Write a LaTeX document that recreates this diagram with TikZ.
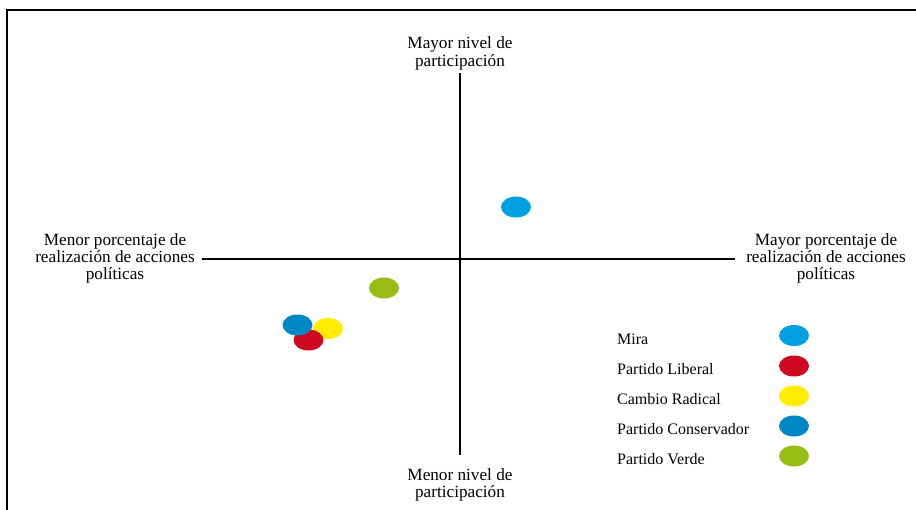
\documentclass[tikz,border=0pt]{standalone}
\usepackage{fontspec}
\setmainfont{Liberation Serif}
\definecolor{cmira}{RGB}{0,160,227}
\definecolor{clib}{RGB}{205,10,32}
\definecolor{ccam}{RGB}{255,236,0}
\definecolor{ccon}{RGB}{0,136,198}
\definecolor{cver}{RGB}{152,188,20}
\tikzset{
  lbl/.style={inner sep=0pt, align=center, font=\fontsize{17.2}{17.3}\selectfont},
  leg/.style={inner sep=0pt, anchor=west, font=\fontsize{16}{16}\selectfont},
  dot/.style={ellipse, minimum width=30pt, minimum height=21pt, inner sep=0pt, draw=none},
  axis/.style={line width=2pt},
  frame/.style={line width=2pt, line cap=rect}
}
\usetikzlibrary{shapes.geometric}
\begin{document}
\begin{tikzpicture}[x=1pt,y=-1pt]
\useasboundingbox (0,0) rectangle (916,509);
% frame
\coordinate (fb) at (7,512);
\coordinate (fc) at (7,10);
\coordinate (fr) at (919,10);
\draw[frame] (fb) -- (fc) -- (fr);
% axes
\coordinate (vt) at (460,73);
\coordinate (vb) at (460,455);
\coordinate (hl) at (202,259);
\coordinate (hr) at (735,259);
\draw[axis] (vt) -- (vb);
\draw[axis] (hl) -- (hr);
% axis labels
\node[lbl] (top) at (460,53.5) {Mayor nivel de\\participación};
\node[lbl] (bot) at (460,485) {Menor nivel de\\participación};
\node[lbl] (left) at (115,258.5) {Menor porcentaje de\\realización de acciones\\políticas};
\node[lbl] (right) at (826,258.5) {Mayor porcentaje de\\realización de acciones\\políticas};
% data points
\node[dot, fill=cmira] (pmira) at (516,207) {};
\node[dot, fill=cver] (pver) at (384,288) {};
\node[dot, fill=ccam] (pcam) at (328,328.5) {};
\node[dot, fill=clib] (plib) at (308.5,340) {};
\node[dot, fill=ccon] (pcon) at (297.5,325) {};
% legend
\node[leg] (lmira) at (617,339.5) {Mira};
\node[leg] (llib) at (617,369.5) {Partido Liberal};
\node[leg] (lcam) at (617,399.5) {Cambio Radical};
\node[leg] (lcon) at (617,429.5) {Partido Conservador};
\node[leg] (lver) at (617,459.5) {Partido Verde};
\node[dot, fill=cmira] (kmira) at (794,335.5) {};
\node[dot, fill=clib] (klib) at (794,366) {};
\node[dot, fill=ccam] (kcam) at (794,396) {};
\node[dot, fill=ccon] (kcon) at (794,426) {};
\node[dot, fill=cver] (kver) at (794,456) {};
\end{tikzpicture}
\end{document}
